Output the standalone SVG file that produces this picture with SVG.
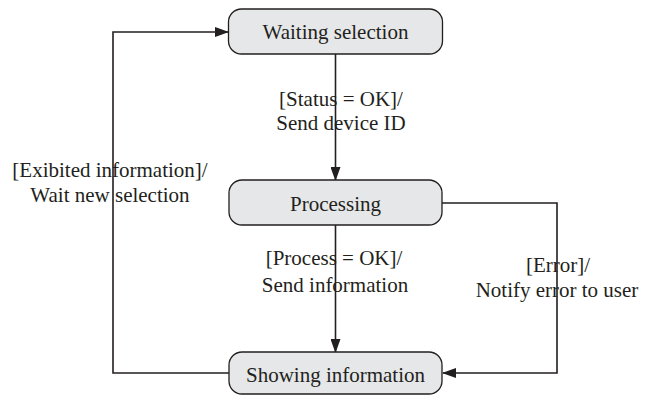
<svg xmlns="http://www.w3.org/2000/svg" width="653" height="395" viewBox="0 0 653 395">
<defs>
<marker id="ah" markerWidth="14" markerHeight="10" refX="13" refY="5" orient="auto" markerUnits="userSpaceOnUse">
<path d="M0,0 L14,5 L0,10 Z" fill="#231f20"/>
</marker>
<style>
.box{fill:#e6e7e8;stroke:#231f20;stroke-width:1.3}
.t{font-family:"Liberation Serif","Times New Roman",serif;font-size:21px;fill:#231f20;text-anchor:middle}
.c{fill:none;stroke:#231f20;stroke-width:1.6}
</style>
</defs>
<rect width="653" height="395" fill="#ffffff"/>
<g id="connectors">
<path class="c" d="M335.5,54 V180" marker-end="url(#ah)"/>
<path class="c" d="M335.5,225 V352" marker-end="url(#ah)"/>
<path class="c" d="M442,203 H557 V373 H443" marker-end="url(#ah)"/>
<path class="c" d="M229,373 H113 V32 H228" marker-end="url(#ah)"/>
</g>
<g id="labels">
<text class="t" x="341" y="106">[Status = OK]/</text>
<text class="t" x="341" y="130">Send device ID</text>
<text class="t" x="110" y="177">[Exibited information]/</text>
<text class="t" x="110" y="202">Wait new selection</text>
<text class="t" x="334" y="265">[Process = OK]/</text>
<text class="t" x="335" y="292">Send information</text>
<text class="t" x="558" y="272">[Error]/</text>
<text class="t" x="557" y="297">Notify error to user</text>
</g>
<g id="waiting">
<rect class="box" x="228.5" y="9" width="214" height="45" rx="13"/>
<text class="t" x="335.5" y="38.5">Waiting selection</text>
</g>
<g id="processing">
<rect class="box" x="229" y="180" width="213" height="45" rx="13"/>
<text class="t" x="335.5" y="211">Processing</text>
</g>
<g id="showing">
<rect class="box" x="229" y="352" width="213" height="42" rx="13"/>
<text class="t" x="335.5" y="382">Showing information</text>
</g>
</svg>
